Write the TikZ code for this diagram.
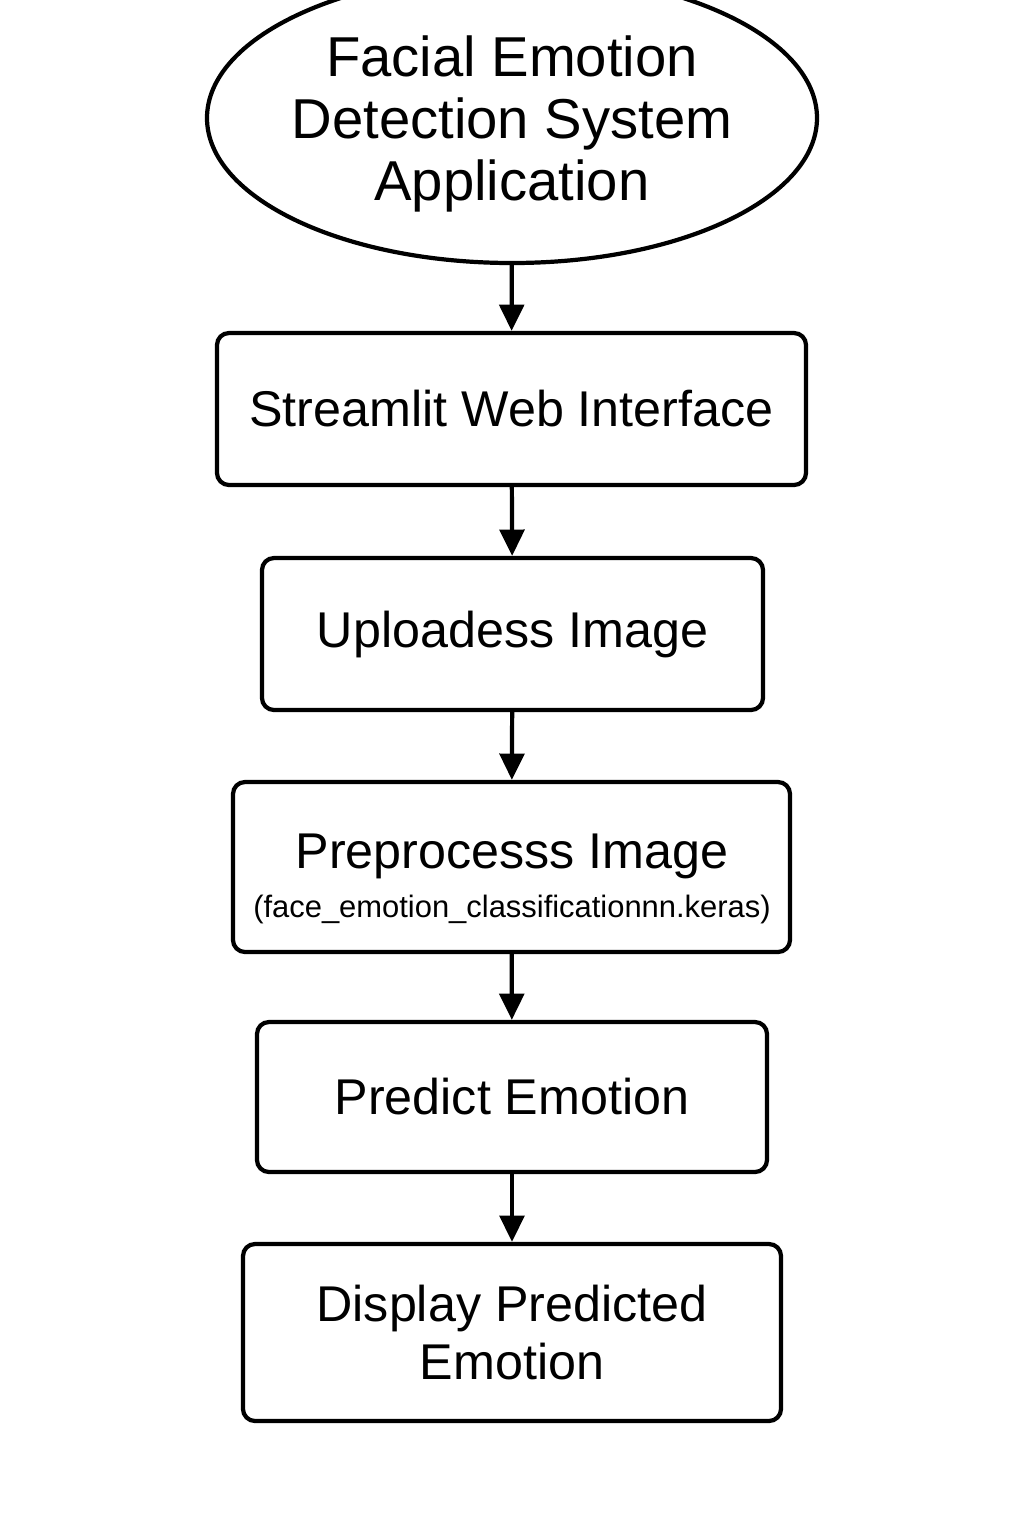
\documentclass[tikz,border=0pt]{standalone}
\usepackage{fontspec}
\setmainfont{Liberation Sans}
\usetikzlibrary{shapes.geometric, arrows.meta}
\begin{document}
\begin{tikzpicture}[x=0.1mm, y=-0.1mm, line width=1.2pt,
	stage/.style={draw, rounded corners=3.4pt, inner sep=0pt, align=center, font=\fontsize{14.3pt}{16.3pt}\selectfont},
	flow/.style={-{Triangle[length=7.5pt, width=7pt]}}]
	\useasboundingbox (0,0) rectangle (1024,1536);
	%application
	\node[draw, ellipse, minimum width=61mm, minimum height=29mm] (app) at (512,118){};
	\node[align=center, font=\fontsize{16pt}{17.6pt}\selectfont] (apptext) at (512,124){Facial Emotion\\Detection System\\Application};
	
	%stages
	\node[stage, minimum width=58.9mm, minimum height=15.2mm] (web) at (511.5,409){Streamlit Web Interface};
	\node[stage, minimum width=50.1mm, minimum height=15.2mm] (upload) at (512.5,634){Uploadess Image};
	\node[stage, minimum width=55.7mm, minimum height=17mm] (prep) at (511.5,867){};
	\node[align=center] (preptext) at (512,879){\fontsize{14.3pt}{15pt}\selectfont Preprocesss Image\\[2pt]\fontsize{8.8pt}{10pt}\selectfont (face\_emotion\_classificationnn.keras)};
	\node[stage, minimum width=51mm, minimum height=15mm] (predict) at (512,1097){Predict Emotion};
	\node[stage, minimum width=53.8mm, minimum height=17.7mm] (display) at (512,1332.5){Display Predicted\\Emotion};
	
	%arrows
	\draw[flow] (app) -- (web);
	\draw[flow] (web) -- (upload);
	\draw[flow] (upload) -- (prep);
	\draw[flow] (prep) -- (predict);
	\draw[flow] (predict) -- (display);
\end{tikzpicture}
\end{document}
